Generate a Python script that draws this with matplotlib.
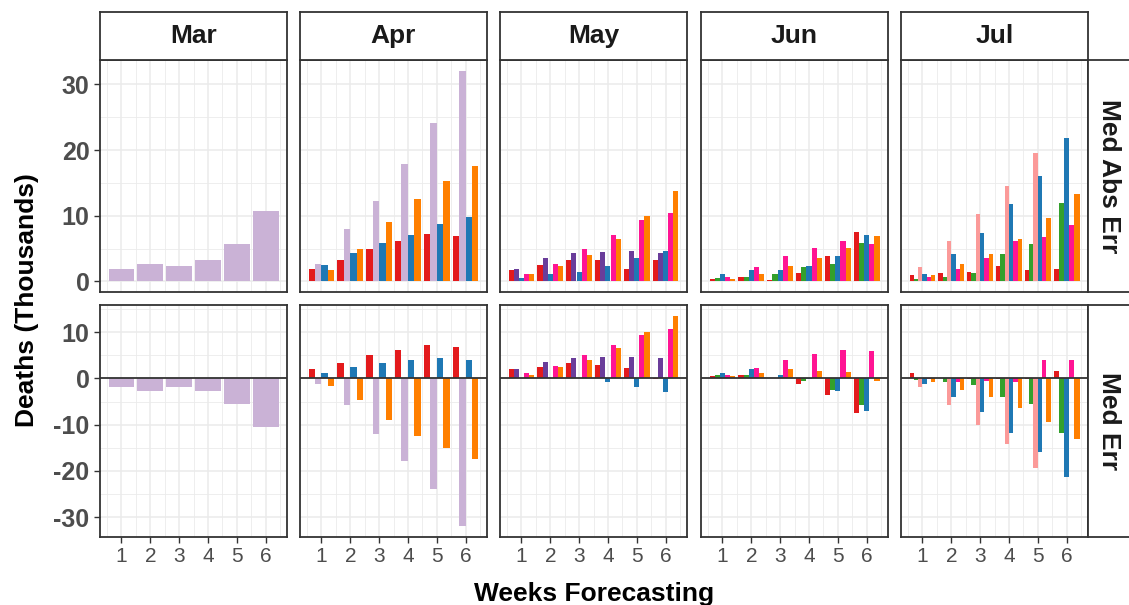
import numpy as np
import matplotlib
matplotlib.use("Agg")
import matplotlib.pyplot as plt
from matplotlib.transforms import blended_transform_factory

plt.rcParams['font.family'] = ['Liberation Sans', 'DejaVu Sans']

# modeller ve renkleri (sira = dodge sirasi)
models = ["A", "B", "C", "D", "E", "F", "G", "H"]
colors = {"A": "#E31A1C", "B": "#CAB2D6", "C": "#6A3D9A", "D": "#33A02C",
          "E": "#FB9A99", "F": "#1F78B4", "G": "#FF1493", "H": "#FF7F00"}

months = ["Mar", "Apr", "May", "Jun", "Jul"]
rows = ["Med Abs Err", "Med Err"]
weeks = [1, 2, 3, 4, 5, 6]
nan = np.nan

# Med Abs Err (bin)
mar_abs = {"B": [1.9, 2.65, 2.3, 3.25, 5.7, 10.7]}
apr_abs = {"A": [1.9, 3.3, 4.9, 6.1, 7.25, 6.85],
           "B": [2.7, 8.0, 12.3, 17.8, 24.1, 32.1],
           "F": [2.55, 4.3, 5.9, 7.05, 8.8, 9.8],
           "H": [1.7, 4.9, 9.0, 12.5, 15.3, 17.6]}
may_abs = {"A": [1.75, 2.5, 3.3, 3.3, 1.95, 3.3],
           "C": [1.95, 3.5, 4.3, 4.5, 4.7, 4.3],
           "F": [0.5, 1.1, 1.5, 2.35, 3.5, 4.7],
           "G": [1.1, 2.7, 4.9, 7.05, 9.4, 10.4],
           "H": [1.1, 2.35, 4.1, 6.5, 10.0, 13.7]}
jun_abs = {"A": [0.35, 0.75, 0.15, 1.3, 3.95, 7.6],
           "D": [0.55, 0.75, 1.1, 2.15, 2.7, 5.8],
           "F": [1.2, 1.75, 1.75, 2.35, 3.95, 7.1],
           "G": [0.75, 2.15, 3.95, 5.1, 6.1, 5.7],
           "H": [0.35, 1.1, 2.35, 3.5, 5.1, 6.9]}
jul_abs = {"A": [0.95, 1.3, 1.5, 2.35, 1.75, 1.95],
           "D": [0.35, 0.75, 1.3, 4.15, 5.7, 12.0],
           "E": [2.15, 6.1, 10.2, 14.5, 19.6, nan],
           "F": [1.1, 4.15, 7.45, 11.75, 16.1, 21.8],
           "G": [0.75, 1.95, 3.5, 6.1, 6.7, 8.6],
           "H": [0.95, 2.7, 4.15, 6.45, 9.6, 13.3]}

# Med Err (bin)
mar_err = {"B": [-1.85, -2.8, -1.85, -2.8, -5.55, -10.6]}
apr_err = {"A": [1.95, 3.3, 5.0, 6.1, 7.2, 6.9],
           "B": [-1.3, -5.8, -12.0, -17.8, -23.9, -32.0],
           "F": [1.1, 2.5, 3.3, 3.9, 4.4, 4.1],
           "H": [-1.7, -4.7, -8.9, -12.5, -15.0, -17.5]}
may_err = {"A": [2.0, 2.5, 3.3, 3.0, 2.25, -0.15],
           "C": [2.0, 3.6, 4.4, 4.7, 4.7, 4.4],
           "F": [0.15, 0.1, 0.05, -0.85, -1.95, -3.0],
           "G": [1.15, 2.75, 5.0, 7.2, 9.5, 10.6],
           "H": [0.8, 2.5, 4.1, 6.7, 10.0, 13.6]}
jun_err = {"A": [0.45, 0.8, 0.05, -1.1, -3.6, -7.5],
           "D": [0.8, 0.8, 0.15, -0.5, -2.45, -5.8],
           "F": [1.1, 2.0, 0.8, -0.15, -2.8, -7.0],
           "G": [0.8, 2.25, 3.9, 5.3, 6.1, 5.9],
           "H": [0.5, 1.1, 2.0, 1.65, 1.4, -0.5]}
jul_err = {"A": [1.1, 0.15, -0.15, -0.15, -0.15, 1.65],
           "D": [-0.3, -0.85, -1.4, -3.9, -5.6, -11.7],
           "E": [-1.95, -5.8, -10.0, -14.1, -19.4, nan],
           "F": [-1.1, -3.9, -7.25, -11.7, -15.9, -21.4],
           "G": [-0.1, -0.7, -0.5, -0.7, 4.1, 3.9],
           "H": [-0.7, -2.45, -4.1, -6.4, -9.4, -13.0]}

data = {"Med Abs Err": [mar_abs, apr_abs, may_abs, jun_abs, jul_abs],
        "Med Err": [mar_err, apr_err, may_err, jun_err, jul_err]}

W, H = 1129, 605
fig = plt.figure(figsize=(W / 100, H / 100), dpi=100)

def box(x0, y0, x1, y1):
    # piksel -> figur koordinati
    return [x0 / W, 1 - y1 / H, (x1 - x0) / W, (y1 - y0) / H]

col_x = [100, 300, 500, 701, 901]
pw = 187
row_y = [(60, 292), (305, 537)]
ylims = [(-1.6, 33.7), (-34.3, 15.9)]
yticks = [[0, 10, 20, 30], [-30, -20, -10, 0, 10]]
yminor = [[5, 15, 25], [-25, -15, -5, 5, 15]]
border = "#333333"
grid = "#EBEBEB"
txt = "#4D4D4D"

for r, rname in enumerate(rows):
    for c, mon in enumerate(months):
        ax = fig.add_axes(box(col_x[c], row_y[r][0], col_x[c] + pw, row_y[r][1]))
        d = data[rname][c]
        for i, wk in enumerate(weeks):
            present = [m for m in models if m in d and not np.isnan(d[m][i])]
            n = len(present)
            bw = 0.9 / n
            for j, m in enumerate(present):
                ax.bar(wk - 0.45 + (j + 0.5) * bw, d[m][i], width=bw,
                       color=colors[m], linewidth=0, zorder=3)
        if r == 1:
            ax.axhline(0, color="#333333", lw=1.3, zorder=4)
        ax.set_xlim(0.255, 6.745)
        ax.set_ylim(*ylims[r])
        ax.set_xticks(weeks)
        ax.set_xticks(np.arange(0.5, 7, 1), minor=True)
        ax.set_yticks(yticks[r])
        ax.set_yticks(yminor[r], minor=True)
        ax.grid(True, which="major", color=grid, lw=1.1, zorder=0)
        ax.grid(True, which="minor", color=grid, lw=0.6, zorder=0)
        ax.set_axisbelow(True)
        for s in ax.spines.values():
            s.set_color(border)
            s.set_linewidth(1.3)
            s.set_zorder(5)
        ax.tick_params(which="minor", length=0)
        ax.tick_params(which="major", length=4, width=1, color=border)
        if c == 0:
            ax.set_yticklabels([str(v) for v in yticks[r]], fontsize=18,
                               fontweight="bold", color=txt)
        else:
            ax.tick_params(axis="y", length=0, labelleft=False)
        if r == 1:
            ax.set_xticklabels([str(w) for w in weeks], fontsize=15, color=txt)
        else:
            ax.tick_params(axis="x", length=0, labelbottom=False)

        # ust seritler
        if r == 0:
            sa = fig.add_axes(box(col_x[c], 12, col_x[c] + pw, 60))
            sa.set_xticks([])
            sa.set_yticks([])
            for s in sa.spines.values():
                s.set_color(border)
                s.set_linewidth(1.3)
            sa.text(0.5, 0.5, mon, ha="center", va="center", fontsize=19,
                    fontweight="bold", color="#1A1A1A", transform=sa.transAxes)

    # sag seritler (kenarda kirpilmis)
    sa = fig.add_axes(box(1088, row_y[r][0], 1160, row_y[r][1]))
    sa.set_xticks([])
    sa.set_yticks([])
    for s in sa.spines.values():
        s.set_color(border)
        s.set_linewidth(1.3)
    sa.set_xlim(0, 72)
    sa.text(21, 0.5, rname, ha="center", va="center", fontsize=19,
            fontweight="bold", color="#1A1A1A", rotation=-90,
            transform=blended_transform_factory(sa.transData, sa.transAxes))

fig.text(27 / W, 1 - 300 / H, "Deaths (Thousands)", rotation=90, ha="center",
         va="center", fontsize=19, fontweight="bold", color="black")
fig.text(594 / W, 1 - 594 / H, "Weeks Forecasting", ha="center", va="center",
         fontsize=19, fontweight="bold", color="black")

fig.savefig("out.png", dpi=100)
